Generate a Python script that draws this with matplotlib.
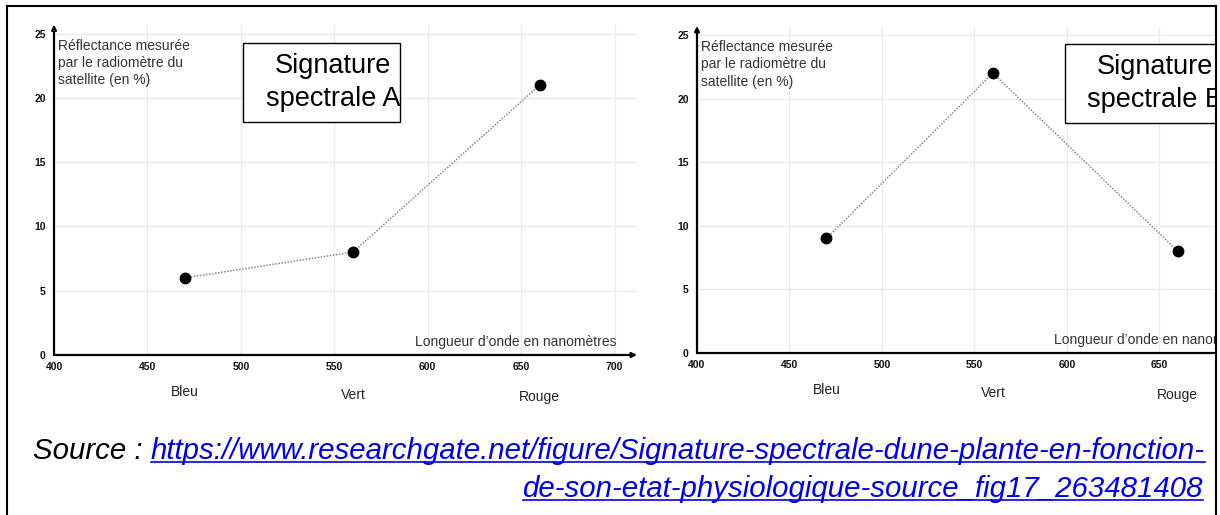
import matplotlib
matplotlib.use('Agg')
import matplotlib.pyplot as plt
from matplotlib.patches import Rectangle
from matplotlib.lines import Line2D

plt.rcParams['font.family'] = ['Liberation Sans', 'DejaVu Sans']

# values
bands = ['Bleu', 'Vert', 'Rouge']
wavelengths = [470, 560, 660]
reflectance_a = [6, 8, 21]
reflectance_b = [9, 22, 8]
x_ticks = [400, 450, 500, 550, 600, 650, 700]
y_ticks = [0, 5, 10, 15, 20, 25]
y_title = 'Réflectance mesurée\npar le radiomètre du\nsatellite (en %)'
x_title = 'Longueur d\u2019onde en nanomètres'
source_line1 = 'https://www.researchgate.net/figure/Signature-spectrale-dune-plante-en-fonction-'
source_line2 = 'de-son-etat-physiologique-source_fig17_263481408'

W, H = 1220, 515
fig = plt.figure(figsize=(W / 100, H / 100), dpi=100)


def px_axes(left, top, width, height):
    return fig.add_axes([left / W, 1 - (top + height) / H, width / W, height / H])


def draw_panel(ax, values, title, box_left):
    ax.set_xlim(400, 712)
    ax.set_ylim(0, 25.7)
    ax.set_xticks(x_ticks)
    ax.set_yticks(y_ticks)
    ax.tick_params(length=0, labelsize=7.5, colors='#111')
    ax.tick_params(axis='x', pad=5)
    ax.tick_params(axis='y', pad=6)
    for lab in ax.get_xticklabels() + ax.get_yticklabels():
        lab.set_fontweight('bold')
    ax.grid(color='#ebebeb', lw=1)
    ax.set_axisbelow(True)
    for s in ax.spines.values():
        s.set_visible(False)
    ax.patch.set_alpha(0)

    # axes with arrow heads
    arrow = dict(arrowstyle='-|>', color='black', lw=1.6, mutation_scale=7,
                 shrinkA=0, shrinkB=0)
    ax.annotate('', xy=(1, 0), xytext=(0, 0), xycoords='axes fraction', arrowprops=arrow)
    ax.annotate('', xy=(0, 1), xytext=(0, 0), xycoords='axes fraction', arrowprops=arrow)

    ax.plot(wavelengths, values, ls=(0, (1, 1)), color='#8a8a8a', lw=1.1,
            marker='o', ms=7.5, mfc='black', mec='black', zorder=3)

    ax.text(402, 24.6, y_title, fontsize=10, ha='left', va='top',
            color='#333', linespacing=1.3)
    ax.text(593, 0.45, x_title, fontsize=10, ha='left', va='bottom', color='#333')

    for band, wl, off in zip(bands, wavelengths, [27, 29, 30]):
        ax.annotate(band, xy=(wl, 0), xytext=(0, -off), textcoords='offset points',
                    ha='center', va='center', fontsize=10, color='#222',
                    annotation_clip=False)

    ax.add_patch(Rectangle((box_left, 18.1), 84, 6.2, fc='white', ec='black',
                           lw=1, zorder=4, clip_on=False))
    ax.text(box_left + 48.5, 21.2, title, fontsize=19.5, ha='center', va='center',
            color='black', linespacing=1.35, zorder=5)


ax_a = px_axes(54, 24.5, 583, 330.5)
draw_panel(ax_a, reflectance_a, 'Signature\nspectrale A', 501)

ax_b = px_axes(697, 26, 577, 327)
draw_panel(ax_b, reflectance_b, 'Signature\nspectrale B', 599)

# cover and page frame
fig.add_artist(Rectangle((1217 / W, 0), 3 / W, 1, transform=fig.transFigure,
                         fc='white', ec='none', zorder=10))
frame = dict(color='black', lw=1.5, zorder=11)
fig.add_artist(Line2D([7 / W, 1216 / W], [1 - 6 / H] * 2, **frame))
fig.add_artist(Line2D([7 / W] * 2, [0, 1 - 6 / H], **frame))
fig.add_artist(Line2D([1216 / W] * 2, [0, 1 - 6 / H], **frame))

# source line, fitted to the page width
blue = '#0000ee'
fig.canvas.draw()
r = fig.canvas.get_renderer()
size = 18
probe = fig.text(0, 0, 'Source : ' + source_line1, fontsize=size, style='italic')
wpx = probe.get_window_extent(r).width
probe.remove()
size = size * 1170 / wpx

base1 = 1 - 459 / H
base2 = 1 - 497 / H
t0 = fig.text(33 / W, base1, 'Source : ', fontsize=size, style='italic',
              va='baseline', color='black')
bb0 = t0.get_window_extent(r)
t1 = fig.text(bb0.x1 / W, base1, source_line1, fontsize=size, style='italic',
              va='baseline', color=blue)
t2 = fig.text(1203 / W, base2, source_line2, fontsize=size, style='italic',
              va='baseline', ha='right', color=blue)
for t, base in [(t1, base1), (t2, base2)]:
    bb = t.get_window_extent(r)
    y = base - 3 / H
    fig.add_artist(Line2D([bb.x0 / W, bb.x1 / W], [y, y], color=blue, lw=1.2))

fig.savefig('out.png', dpi=100)
